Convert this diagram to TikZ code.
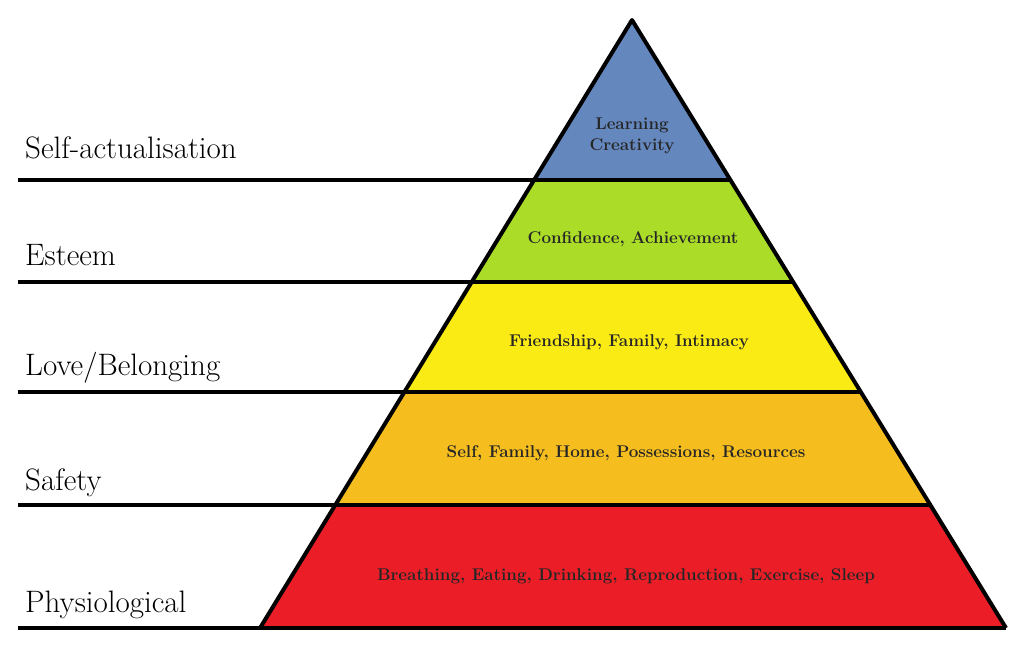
\documentclass[tikz,border=0pt]{standalone}
\usetikzlibrary{calc}
\definecolor{cblue}{RGB}{100,135,190}
\definecolor{cgreen}{RGB}{170,220,40}
\definecolor{cyellow}{RGB}{250,235,20}
\definecolor{corange}{RGB}{245,190,30}
\definecolor{cred}{RGB}{235,30,40}
\begin{document}
\begin{tikzpicture}[x=1pt,y=-1pt,
  edge/.style={line width=4pt,line join=round},
  lvl/.style={anchor=base west,font=\fontsize{31}{34}\selectfont,inner sep=0pt},
  inner/.style={font=\bfseries\fontsize{17}{21}\selectfont,text=black!85,align=center,inner sep=0pt}]
\useasboundingbox (0,0) rectangle (1024,651);
\coordinate (A) at (632,20);
\coordinate (BL) at (260,628);
\coordinate (BR) at (1006,628);
\foreach \n/\t in {1/0.263,2/0.431,3/0.612,4/0.798}{
  \coordinate (L\n) at ($(A)!\t!(BL)$);
  \coordinate (R\n) at ($(A)!\t!(BR)$);
}
\fill[cblue] (A) -- (L1) -- (R1) -- cycle;
\fill[cgreen] (L1) -- (L2) -- (R2) -- (R1) -- cycle;
\fill[cyellow] (L2) -- (L3) -- (R3) -- (R2) -- cycle;
\fill[corange] (L3) -- (L4) -- (R4) -- (R3) -- cycle;
\fill[cred] (L4) -- (BL) -- (BR) -- (R4) -- cycle;
\coordinate (E1) at (L1 -| 18,0);
\coordinate (E2) at (L2 -| 18,0);
\coordinate (E3) at (L3 -| 18,0);
\coordinate (E4) at (L4 -| 18,0);
\coordinate (E5) at (BL -| 18,0);
\draw[edge] (E1) -- (R1);
\draw[edge] (E2) -- (R2);
\draw[edge] (E3) -- (R3);
\draw[edge] (E4) -- (R4);
\draw[edge] (E5) -- (BR);
\draw[edge] (BL) -- (A) -- (BR);
\node[lvl] (t1) at (25,158) {Self-actualisation};
\node[lvl] (t2) at (25,265) {Esteem};
\node[lvl] (t3) at (25,375) {Love/Belonging};
\node[lvl] (t4) at (25,490) {Safety};
\node[lvl] (t5) at (25,612) {Physiological};
\node[inner] (i1) at (632,136) {Learning\\Creativity};
\node[inner] (i2) at (633,239) {Confidence, Achievement};
\node[inner] (i3) at (629,342) {Friendship, Family, Intimacy};
\node[inner] (i4) at (626,453) {Self, Family, Home, Possessions, Resources};
\node[inner] (i5) at (626,576) {Breathing, Eating, Drinking, Reproduction, Exercise, Sleep};
\end{tikzpicture}
\end{document}
